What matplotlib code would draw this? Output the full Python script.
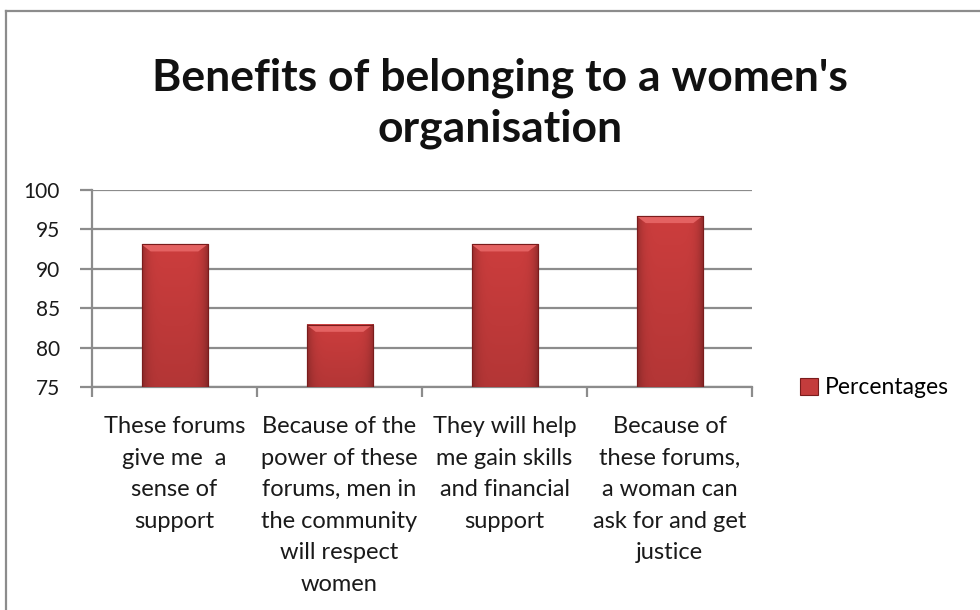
import numpy as np
import matplotlib
matplotlib.use("Agg")
import matplotlib.pyplot as plt
from matplotlib.lines import Line2D
from matplotlib.patches import Polygon

# chart data
categories = [
    "These forums\ngive me  a\nsense of\nsupport",
    "Because of the\npower of these\nforums, men in\nthe community\nwill respect\nwomen",
    "They will help\nme gain skills\nand financial\nsupport",
    "Because of\nthese forums,\na woman can\nask for and get\njustice",
]
percentages = [93.1, 82.9, 93.1, 96.7]
series_name = "Percentages"
y_ticks = [75, 80, 85, 90, 95, 100]

plt.rcParams['font.family'] = ['Lato', 'DejaVu Sans']

fig = plt.figure(figsize=(9.8, 6.1), dpi=100)
W, H = 980, 610
ax = fig.add_axes([92 / W, 1 - 387 / H, (752 - 92) / W, (387 - 190) / H])

x = np.arange(len(categories))
bar_w = 0.4
bars = ax.bar(x, percentages, width=bar_w, color='#c43c3c', edgecolor='#7a1c1c',
              linewidth=0.8, label=series_name, zorder=3)

ymin, ymax = 75, 100
ax.set_ylim(ymin, ymax)
ax.set_xlim(-0.5, len(categories) - 0.5)

# shaded look for the bars: horizontal gradient plus a light bevel on top
prof = np.linspace(-1, 1, 60)
shade = 1 - 0.25 * prof ** 6
vert = np.linspace(0.88, 1.0, 60)[:, None]
base = np.array([0.80, 0.24, 0.24])
grad = np.clip(base[None, None, :] * (shade[None, :, None] * vert[:, :, None]), 0, 1)
for b in bars:
    x0, w = b.get_x(), b.get_width()
    top = b.get_y() + b.get_height()
    ax.imshow(grad, extent=[x0, x0 + w, ymin, top], origin='lower',
              aspect='auto', zorder=3.5, interpolation='bilinear')
    dx, dy = w * 0.14, 0.9
    ax.add_patch(Polygon([[x0, top], [x0 + w, top], [x0 + w - dx, top - dy],
                          [x0 + dx, top - dy]], closed=True,
                         facecolor='#e46262', edgecolor='none', zorder=3.8))
    ax.add_patch(plt.Rectangle((x0, ymin), w, top - ymin, fill=False,
                               edgecolor='#7a1c1c', linewidth=0.8, zorder=4))
ax.set_xlim(-0.5, len(categories) - 0.5)
ax.set_ylim(ymin, ymax)

ax.set_yticks(y_ticks)
ax.set_yticklabels([str(t) for t in y_ticks], fontsize=15, color='#1a1a1a')
ax.yaxis.grid(True, color='#8c8c8c', linewidth=1.6, zorder=0)
ax.set_axisbelow(True)

# category labels under the bars, ticks at the boundaries
ax.set_xticks(x)
ax.set_xticklabels(categories, fontsize=17, color='#1a1a1a', linespacing=1.62)
ax.tick_params(axis='x', which='major', length=0, pad=21)
ax.set_xticks(np.arange(-0.5, len(categories), 1.0), minor=True)
ax.tick_params(axis='x', which='minor', length=7, width=1.6, color='#8c8c8c')
ax.tick_params(axis='y', length=9, width=1.6, color='#8c8c8c', pad=14)

for side in ['top', 'right']:
    ax.spines[side].set_visible(False)
for side in ['left', 'bottom']:
    ax.spines[side].set_color('#8c8c8c')
    ax.spines[side].set_linewidth(1.6)

fig.text(500 / W, 1 - 103 / H, "Benefits of belonging to a women's\norganisation",
         ha='center', va='center', fontsize=32, fontweight='bold',
         color='#111111', linespacing=1.33)

leg = ax.legend(loc='center left', bbox_to_anchor=(779 / W, 1 - 388 / H),
                bbox_transform=fig.transFigure, frameon=False, fontsize=16.5,
                handlelength=0.8, handleheight=0.8, handletextpad=0.3)

# outer chart frame
fig.add_artist(Line2D([6 / W, 6 / W], [0, 1 - 11 / H], transform=fig.transFigure,
                      color='#8c8c8c', linewidth=1.6))
fig.add_artist(Line2D([6 / W, 1], [1 - 11 / H, 1 - 11 / H], transform=fig.transFigure,
                      color='#8c8c8c', linewidth=1.6))

fig.savefig("out.png", dpi=100)
